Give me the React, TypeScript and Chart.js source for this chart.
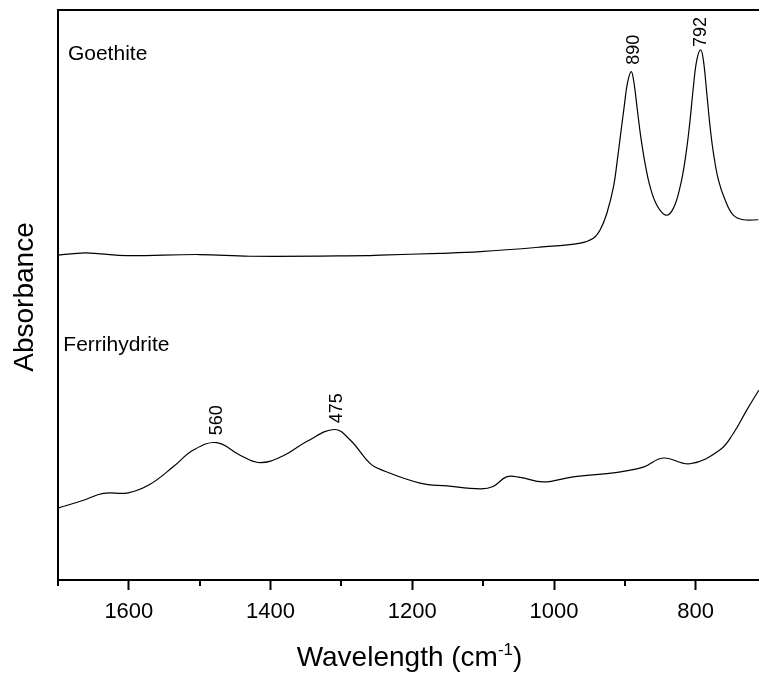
import React, { useEffect, useRef } from "react";
import { Chart, registerables } from "chart.js";

Chart.register(...registerables);

// Wavenumber (cm-1) and absorbance (arbitrary, offset)
const goethiteX = [1700, 1662, 1640, 1603, 1500, 1429, 1264, 1245, 1161, 1104, 1020, 963, 945, 935, 925.5, 916, 910.6, 905.8, 901, 896.5, 891, 887, 882.4, 877.6, 871.5, 864.4, 855, 842, 831.6, 822, 815, 809, 803.3, 798.5, 793, 789.2, 784.4, 779.7, 775, 768, 758.6, 747, 732.7, 711.6];
const goethiteY = [57.0, 57.4, 57.2, 56.9, 57.1, 56.8, 56.9, 57.0, 57.3, 57.6, 58.4, 59.1, 59.9, 61.4, 64.3, 69.0, 73.7, 78.4, 83.0, 87.1, 89.2, 87.1, 82.5, 77.8, 73.1, 69.0, 65.8, 64.0, 65.2, 69.0, 73.7, 79.5, 86.5, 91.2, 93.0, 91.2, 85.4, 79.5, 74.9, 70.2, 66.7, 64.0, 63.2, 63.2];

const ferriX = [1700, 1664, 1636, 1601, 1570, 1537, 1509, 1476, 1443, 1415, 1382, 1349, 1310, 1288, 1260, 1245, 1189, 1151, 1104, 1086, 1067, 1048, 1015, 973, 916, 874, 846, 808, 766, 747, 728, 711];
const ferriY = [12.6, 14.0, 15.2, 15.3, 16.8, 19.9, 22.8, 24.1, 21.9, 20.6, 21.8, 24.3, 26.4, 24.6, 20.5, 19.4, 17.0, 16.5, 16.0, 16.4, 18.1, 18.0, 17.2, 18.1, 18.8, 19.8, 21.4, 20.4, 22.8, 25.7, 29.8, 33.3];

const seriesNames = ["Goethite", "Ferrihydrite"];
const nameX = [1686, 1692.5];
const nameY = [91.2, 40.1];

const peakLabels = ["890", "792", "560", "475"];
const peakLabelX = [888, 794, 1477, 1307];
const peakLabelY = [90.4, 93.5, 25.4, 27.5];

const xMin = 710.7;
const xMax = 1700;
const tickStep = 100;
const majorStep = 200;

const FONT = 'Arial, "Liberation Sans", sans-serif';

export default function App() {
  const ref = useRef<HTMLCanvasElement | null>(null);

  useEffect(() => {
    document.body.style.margin = "0";
    const canvas = ref.current;
    if (!canvas) return;

    const decor = {
      id: "decor",
      afterDraw(chart: any) {
        const ctx = chart.ctx;
        const area = chart.chartArea;
        const xs = chart.scales.x;
        const ys = chart.scales.y;
        ctx.save();
        // top frame line
        ctx.strokeStyle = "#000";
        ctx.lineWidth = 2;
        ctx.beginPath();
        ctx.moveTo(area.left - 1, area.top);
        ctx.lineTo(area.right, area.top);
        ctx.stroke();
        // minor ticks
        xs.ticks.forEach((t: any) => {
          if (t.value % majorStep !== 0) {
            const px = Math.round(xs.getPixelForValue(t.value));
            ctx.beginPath();
            ctx.moveTo(px, area.bottom);
            ctx.lineTo(px, area.bottom + 6);
            ctx.stroke();
          }
        });
        ctx.fillStyle = "#000";
        // series names
        ctx.font = `21px ${FONT}`;
        ctx.textAlign = "left";
        ctx.textBaseline = "alphabetic";
        seriesNames.forEach((n, i) => {
          ctx.fillText(n, xs.getPixelForValue(nameX[i]), ys.getPixelForValue(nameY[i]));
        });
        // peak labels (rotated)
        ctx.font = `18px ${FONT}`;
        peakLabels.forEach((p, i) => {
          const px = xs.getPixelForValue(peakLabelX[i]);
          const py = ys.getPixelForValue(peakLabelY[i]);
          ctx.save();
          ctx.translate(px, py);
          ctx.rotate(-Math.PI / 2);
          ctx.textAlign = "left";
          ctx.textBaseline = "middle";
          ctx.fillText(p, 0, 1);
          ctx.restore();
        });
        // y title
        ctx.save();
        ctx.font = `28px ${FONT}`;
        ctx.translate(33, (area.top + area.bottom) / 2 + 2);
        ctx.rotate(-Math.PI / 2);
        ctx.textAlign = "center";
        ctx.textBaseline = "alphabetic";
        ctx.fillText("Absorbance", 0, 0);
        ctx.restore();
        // x title with superscript
        const main1 = "Wavelength (cm";
        const sup = "-1";
        const main2 = ")";
        ctx.font = `28px ${FONT}`;
        const w1 = ctx.measureText(main1).width;
        const w3 = ctx.measureText(main2).width;
        ctx.font = `17px ${FONT}`;
        const w2 = ctx.measureText(sup).width;
        const total = w1 + w2 + w3;
        const cx = (area.left + area.right) / 2 + 1;
        const base = 666;
        let x0 = cx - total / 2;
        ctx.textAlign = "left";
        ctx.textBaseline = "alphabetic";
        ctx.font = `28px ${FONT}`;
        ctx.fillText(main1, x0, base);
        ctx.font = `17px ${FONT}`;
        ctx.fillText(sup, x0 + w1, base - 11);
        ctx.font = `28px ${FONT}`;
        ctx.fillText(main2, x0 + w1 + w2, base);
        ctx.restore();
      },
    };

    const mk = (xsArr: number[], ysArr: number[]) => xsArr.map((x, i) => ({ x, y: ysArr[i] }));

    const chart = new Chart(canvas, {
      type: "line",
      data: {
        datasets: [
          {
            label: seriesNames[0],
            data: mk(goethiteX, goethiteY),
            borderColor: "#000",
            borderWidth: 1.2,
            pointRadius: 0,
            fill: false,
            tension: 0.4,
          },
          {
            label: seriesNames[1],
            data: mk(ferriX, ferriY),
            borderColor: "#000",
            borderWidth: 1.2,
            pointRadius: 0,
            fill: false,
            tension: 0.4,
          },
        ],
      },
      options: {
        responsive: false,
        animation: false,
        devicePixelRatio: 1,
        layout: { padding: { top: 10, left: 0, right: 0, bottom: 0 } },
        plugins: { legend: { display: false }, tooltip: { enabled: false } },
        scales: {
          x: {
            type: "linear",
            reverse: true,
            min: xMin,
            max: xMax,
            position: "bottom",
            ticks: {
              stepSize: tickStep,
              includeBounds: false,
              autoSkip: false,
              maxRotation: 0,
              padding: 9,
              color: "#000",
              font: { size: 22, family: FONT },
              callback: (v: any) => (Number(v) % majorStep === 0 ? String(v) : ""),
            },
            grid: {
              display: true,
              drawOnChartArea: false,
              drawTicks: true,
              tickLength: 10,
              tickWidth: 2,
              tickColor: (c: any) =>
                c.tick && c.tick.value % majorStep === 0 ? "#000" : "rgba(0,0,0,0)",
            },
            border: { display: true, color: "#000", width: 2 },
            afterFit: (s: any) => {
              s.height = 94;
            },
          },
          y: {
            type: "linear",
            min: 0,
            max: 100,
            ticks: { display: false },
            grid: { display: false },
            border: { display: true, color: "#000", width: 2 },
            afterFit: (s: any) => {
              s.width = 58;
            },
          },
        },
      },
      plugins: [decor],
    });
    return () => chart.destroy();
  }, []);

  return (
    <div style={{ width: 759, height: 674 }}>
      <canvas ref={ref} width={759} height={674} style={{ display: "block" }} />
    </div>
  );
}
